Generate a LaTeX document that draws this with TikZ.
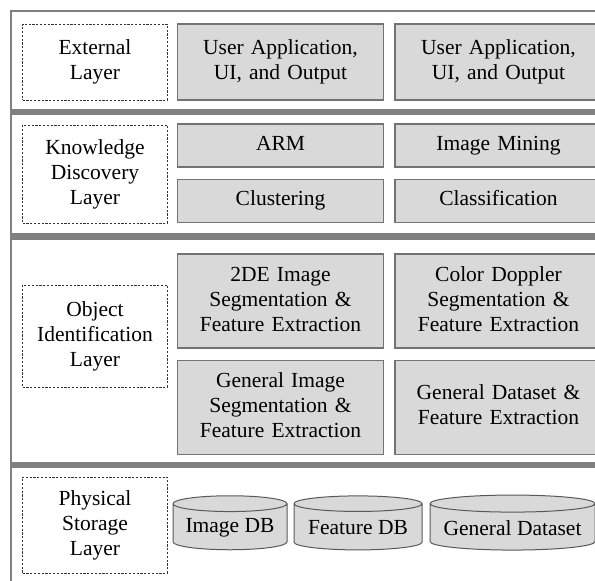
\documentclass[tikz,border=0pt]{standalone}
\usepackage{fontspec}
\setmainfont{Liberation Serif}
\usetikzlibrary{shapes.geometric, positioning}
\newcommand{\boxfont}{\fontsize{21.5}{25}\selectfont}
\tikzstyle{layer} = [rectangle, draw=black!80, dash pattern=on 2.2pt off 1.6pt, line width=0.9pt, minimum width=142pt, text width=138pt, align=center, font=\boxfont, execute at begin node=\strut, execute at end node=\strut]
\tikzstyle{module} = [rectangle, draw=black!55, line width=1.3pt, fill=black!15, minimum width=205pt, text width=200pt, align=center, font=\boxfont, execute at begin node=\strut, execute at end node=\strut]
\tikzstyle{store} = [cylinder, shape border rotate=90, draw=black!65, line width=1pt, cylinder uses custom fill, cylinder body fill=black!15, cylinder end fill=black!15, inner sep=2pt, font=\boxfont]
\tikzstyle{divider} = [line width=6.5pt, draw=black!50]

\begin{document}
\begin{tikzpicture}[x=1pt, y=-1pt, node distance=10pt]
\useasboundingbox (0,0) rectangle (595,581);
% frame and layer dividers
\draw [black!50, line width=1.5pt] (11,11) rectangle (630,620);
\draw [divider] (11,112) -- (630,112);
\draw [divider] (11,236.5) -- (630,236.5);
\draw [divider] (11,465) -- (630,465);

% external layer
\node (extlayer) [layer, minimum height=76pt] at (95,62) {External\\Layer};
\node (ui1) [module, minimum height=76pt] at (280.5,62) {User Application,\\UI, and Output};
\node (ui2) [module, minimum height=76pt, right=of ui1] {User Application,\\UI, and Output};

% knowledge discovery layer
\node (kdlayer) [layer, minimum height=98pt] at (95,174) {Knowledge\\Discovery\\Layer};
\node (arm) [module, minimum height=43pt] at (280.5,145.5) {ARM};
\node (mining) [module, minimum height=43pt, right=of arm] {Image Mining};
\node (cluster) [module, minimum height=43pt, below=11pt of arm] {Clustering};
\node (classify) [module, minimum height=43pt, right=of cluster] {Classification};

% object identification layer
\node (oilayer) [layer, minimum height=102pt] at (95,336) {Object\\Identification\\Layer};
\node (twode) [module, minimum height=94pt] at (280.5,301) {2DE Image\\Segmentation \&\\Feature Extraction};
\node (doppler) [module, minimum height=94pt, right=of twode] {Color Doppler\\Segmentation \&\\Feature Extraction};
\node (genimg) [module, minimum height=94pt, below=11pt of twode] {General Image\\Segmentation \&\\Feature Extraction};
\node (gendata) [module, minimum height=94pt, right=of genimg] {General Dataset \&\\Feature Extraction};

% physical storage layer
\node (pslayer) [layer, minimum height=96pt] at (95,525) {Physical\\Storage\\Layer};
\node (imgdb) [store, minimum width=114pt, minimum height=54pt, aspect=0.17] at (230,528) {Image DB};
\node (featdb) [store, minimum width=128pt, minimum height=54pt, aspect=0.15, right=6pt of imgdb] {Feature DB};
\node (gendb) [store, minimum width=165pt, minimum height=55pt, aspect=0.12, right=7pt of featdb] {General Dataset};
\end{tikzpicture}
\end{document}
